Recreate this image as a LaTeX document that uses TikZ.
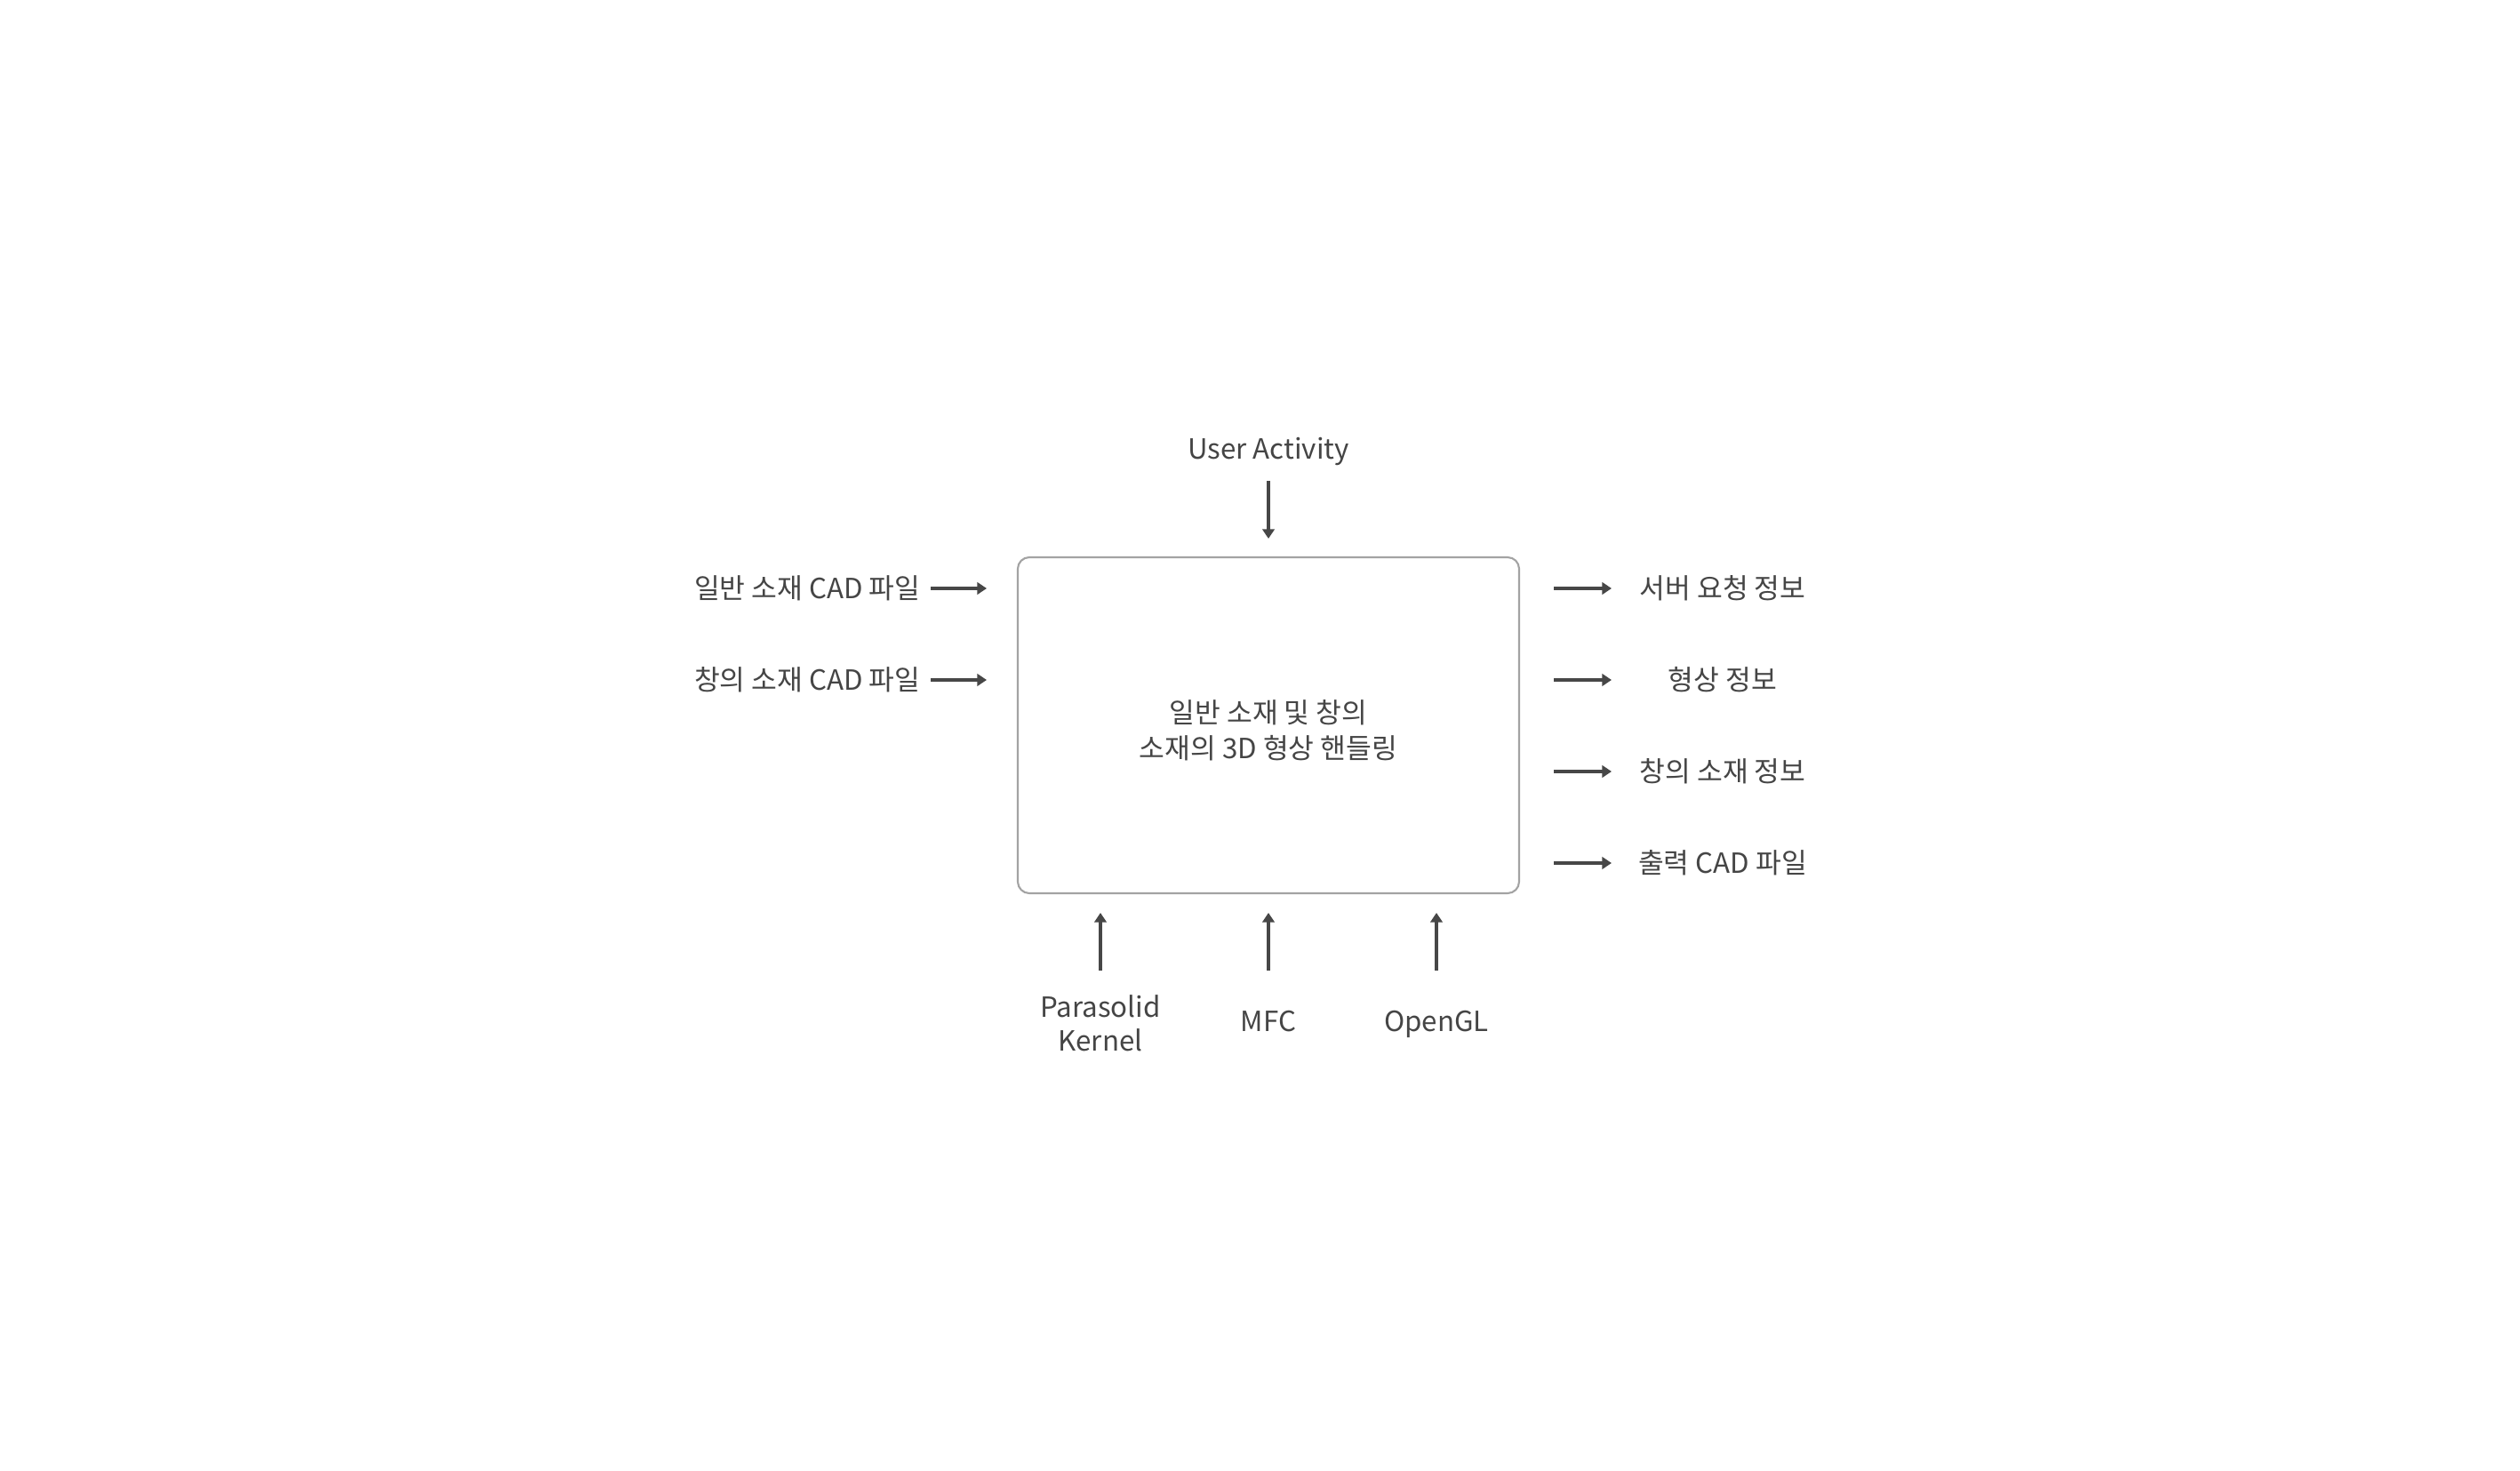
\documentclass[tikz,border=0pt]{standalone}
\usepackage{fontspec}
\setmainfont{Noto Sans CJK KR}
\usetikzlibrary{arrows.meta}
\definecolor{txt}{HTML}{454545}
\definecolor{arr}{HTML}{474747}
\definecolor{boxc}{HTML}{A3A3A3}
\tikzset{
  lbl/.style={text=txt, font=\fontsize{8.9pt}{11.8pt}\selectfont, inner sep=0pt, align=center},
  one/.style={text height=1.55ex, text depth=0.45ex},
  flow/.style={draw=arr, line width=1pt, -{Triangle[length=3pt,width=3.8pt]}},
  mainbox/.style={draw=boxc, line width=0.6pt, rounded corners=0.13cm, minimum width=5.64cm, minimum height=3.78cm, inner sep=0pt}
}
\begin{document}
\begin{tikzpicture}[x=1cm,y=1cm]
\useasboundingbox[fill=white] (0,0) rectangle (28.35,16.54);
% main box (px: x 1145-1709, y 627-1005)
\node[mainbox] (box) at (14.27,{(1654-816)/100}) {};
\node[lbl] (boxt) at (14.27,{(1654-822)/100}) {일반 소재 및 창의\\[-0.4pt]소재의 3D 형상 핸들링};
% top
\node[lbl, one] (ua) at (14.27,{(1654-506)/100}) {User Activity};
\coordinate (uas) at (14.27,{(1654-541)/100});
\coordinate (uae) at (14.27,{(1654-606)/100});
\draw[flow] (uas) -- (uae);
% left inputs
\node[lbl, one, anchor=east] (in1) at (10.36,{(1654-663)/100}) {일반 소재 CAD 파일};
\node[lbl, one, anchor=east] (in2) at (10.36,{(1654-766)/100}) {창의 소재 CAD 파일};
\coordinate (i1s) at (10.47,{(1654-662)/100});
\coordinate (i1e) at (11.10,{(1654-662)/100});
\coordinate (i2s) at (10.47,{(1654-765)/100});
\coordinate (i2e) at (11.10,{(1654-765)/100});
\draw[flow] (i1s) -- (i1e);
\draw[flow] (i2s) -- (i2e);
% right outputs
\foreach \n/\py/\t in {1/662/서버 요청 정보, 2/765/형상 정보, 3/868/창의 소재 정보, 4/971/출력 CAD 파일}{
  \node[lbl, one] (out\n) at (19.38,{(1654-\py-1)/100}) {\t};
  \coordinate (o\n s) at (17.48,{(1654-\py)/100});
  \coordinate (o\n e) at (18.13,{(1654-\py)/100});
  \draw[flow] (o\n s) -- (o\n e);
}
% bottom
\node[lbl] (ps) at (12.38,{(1654-1151)/100}) {Parasolid\\[-1pt]Kernel};
\node[lbl, one] (mfc) at (14.27,{(1654-1150)/100}) {MFC};
\node[lbl, one] (ogl) at (16.16,{(1654-1150)/100}) {OpenGL};
\foreach \x/\n in {12.38/1,14.27/2,16.16/3}{
  \coordinate (b\n s) at (\x,{(1654-1092)/100});
  \coordinate (b\n e) at (\x,{(1654-1027)/100});
  \draw[flow] (b\n s) -- (b\n e);
}
\end{tikzpicture}
\end{document}
